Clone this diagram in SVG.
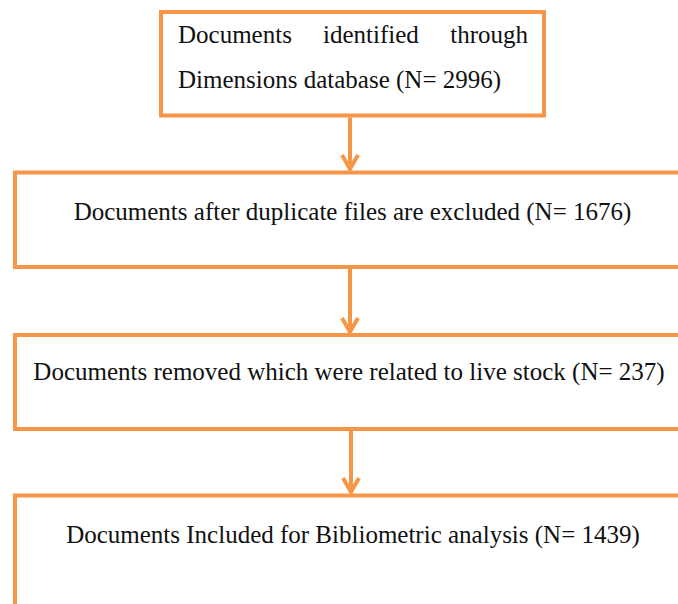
<svg xmlns="http://www.w3.org/2000/svg" width="678" height="604" viewBox="0 0 678 604">
<style>
.box{fill:#fff;stroke:#F79646;stroke-width:4}
.t{font-family:"Liberation Serif","Times New Roman",serif;font-size:25px;fill:#111}
.c{stroke:#F79646;stroke-width:4;fill:none}
</style>
<rect width="678" height="604" fill="#fff"/>
<g id="n1">
<rect class="box" x="161" y="12" width="383" height="103.5"/>
<text class="t" x="178" y="43">Documents</text>
<text class="t" x="323" y="43">identified</text>
<text class="t" x="528" y="43" text-anchor="end">through</text>
<text class="t" x="178" y="88">Dimensions database (N= 2996)</text>
</g>
<g id="n2">
<rect class="box" x="15" y="172.5" width="680" height="94.5"/>
<text class="t" x="352.5" y="220" text-anchor="middle">Documents after duplicate files are excluded (N= 1676)</text>
</g>
<g id="n3">
<rect class="box" x="15" y="335" width="680" height="94"/>
<text class="t" x="349" y="380" text-anchor="middle">Documents removed which were related to live stock (N= 237)</text>
</g>
<g id="n4">
<rect class="box" x="15" y="495.5" width="680" height="130"/>
<text class="t" x="353" y="543" text-anchor="middle">Documents Included for Bibliometric analysis (N= 1439)</text>
</g>
<g id="connectors">
<path class="c" d="M350 117.5V170"/>
<path class="c" d="M342 155L350 169L358 155"/>
<path class="c" d="M350 269V333"/>
<path class="c" d="M342 318L350 332L358 318"/>
<path class="c" d="M351 431V493"/>
<path class="c" d="M343 478L351 492L359 478"/>
</g>
</svg>
